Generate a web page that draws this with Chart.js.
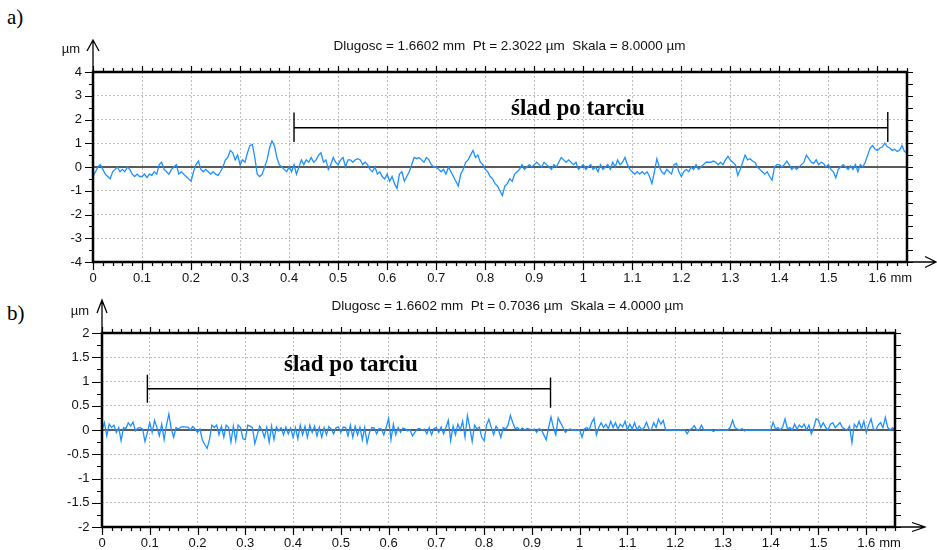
<!DOCTYPE html>
<html>
<head>
<meta charset="utf-8">
<title>Profilogramy</title>
<script src="https://cdn.jsdelivr.net/npm/chart.js@4.4.1/dist/chart.umd.min.js"></script>
<style>
  html, body { margin: 0; padding: 0; background: #fff; }
  #page { position: relative; width: 937px; height: 550px; overflow: hidden; background: #fff; }
  .panel { position: absolute; left: 0; width: 937px; }
  .tag { position: absolute; left: 7px; font: 21px "Liberation Serif", "Times New Roman", serif; color: #000; line-height: 24px; }
</style>
</head>
<body>
<div id="page">
  <div class="tag" style="top:5px">a)</div>
  <div class="tag" style="top:301px">b)</div>
  <div class="panel" style="top:0;height:290px"><canvas id="chartA" width="937" height="290"></canvas></div>
  <div class="panel" style="top:290px;height:260px"><canvas id="chartB" width="937" height="260"></canvas></div>
</div>
<script>
// ---- measured profile data -------------------------------------------------
const LENGTH_MM = 1.6602;        // evaluated length
const SAMPLE_STEP_MM = 0.005;    // spacing of the listed samples

const X_TICKS = [0, 0.1, 0.2, 0.3, 0.4, 0.5, 0.6, 0.7, 0.8, 0.9, 1.0, 1.1, 1.2, 1.3, 1.4, 1.5, 1.6];
const Y_TICKS_A = [-4, -3, -2, -1, 0, 1, 2, 3, 4];
const Y_TICKS_B = [-2, -1.5, -1, -0.5, 0, 0.5, 1, 1.5, 2];

const TITLE_A = 'Dlugosc = 1.6602 mm  Pt = 2.3022 \u00b5m  Skala = 8.0000 \u00b5m';
const TITLE_B = 'Dlugosc = 1.6602 mm  Pt = 0.7036 \u00b5m  Skala = 4.0000 \u00b5m';
const TRACE_LABEL = '\u015blad po tarciu';

// friction trace extent along the profile, mm
const TRACE_A = [0.41, 1.621];
const TRACE_B = [0.095, 0.939];

// profile heights, µm (one row = 0.1 mm)
const PROFILE_A = [
  -0.4,-0.2,0.0,0.1,-0.1,-0.3,-0.4,-0.5,-0.2,-0.1,0.0,-0.2,-0.1,-0.2,0.0,-0.1,-0.3,-0.4,-0.3,-0.4,
  -0.4,-0.3,-0.45,-0.3,-0.35,-0.2,-0.3,0.1,0.2,-0.1,-0.2,-0.3,-0.1,0.0,0.1,-0.3,-0.2,-0.3,-0.4,-0.5,
  -0.6,-0.2,0.1,0.25,-0.1,-0.2,-0.1,-0.2,-0.3,-0.2,-0.3,-0.35,-0.2,0.0,0.3,0.4,0.7,0.6,0.3,0.5,
  0.1,0.3,0.2,0.6,0.9,0.95,0.4,-0.3,-0.4,-0.3,0.0,0.3,0.8,1.1,0.9,0.4,0.1,0.0,-0.1,-0.2,
  0.0,-0.2,0.1,-0.3,0.0,0.3,0.1,0.3,0.2,0.4,0.2,0.3,0.5,0.6,0.2,0.3,-0.1,0.1,0.4,0.2,
  0.1,0.3,0.4,0.0,0.3,0.3,0.2,0.3,0.35,0.3,0.1,0.2,0.1,-0.1,-0.2,0.0,-0.3,-0.2,-0.4,-0.5,
  -0.3,-0.6,-0.4,-0.7,-0.9,-0.3,-0.2,-0.6,-0.4,-0.2,0.1,0.4,0.35,0.4,0.3,0.2,0.4,0.3,0.1,0.0,
  0.0,-0.1,-0.2,-0.1,-0.3,0.0,-0.2,-0.4,-0.6,-0.8,-0.3,-0.1,0.2,0.3,0.5,0.7,0.4,0.5,0.2,0.1,
  -0.1,-0.2,-0.4,-0.5,-0.7,-0.8,-1.0,-1.2,-0.8,-0.7,-0.5,-0.6,-0.3,-0.2,-0.1,0.1,-0.1,0.0,0.1,0.0,
  0.1,0.2,0.1,0.0,0.2,0.1,0.0,-0.1,0.1,0.0,0.2,0.4,0.3,0.2,0.3,0.2,0.1,0.2,-0.1,0.0,
  0.1,-0.1,0.0,0.1,-0.1,0.0,-0.2,0.1,-0.1,0.0,0.1,-0.1,0.2,0.0,0.3,0.1,0.2,0.4,0.1,-0.1,
  -0.2,-0.3,-0.2,-0.3,-0.2,-0.3,-0.2,-0.4,-0.7,-0.2,0.35,0.0,-0.2,-0.3,-0.1,-0.2,-0.3,0.1,0.15,-0.2,
  -0.4,-0.2,-0.1,-0.2,0.0,-0.1,0.1,-0.1,0.0,0.1,0.2,0.2,0.2,0.25,0.2,0.1,0.2,0.1,0.3,0.45,
  0.3,0.2,0.1,-0.35,-0.1,0.2,0.5,0.3,0.35,0.25,0.2,0.0,-0.1,-0.2,-0.3,-0.2,-0.4,-0.55,0.0,0.1,
  0.1,0.0,0.1,0.25,0.1,-0.1,0.0,-0.1,0.0,0.1,0.2,0.5,0.35,0.2,0.15,0.3,0.1,0.2,0.15,0.0,
  0.1,-0.1,-0.2,-0.45,-0.1,0.0,0.1,0.0,-0.1,0.05,-0.1,0.1,-0.2,0.1,0.0,0.2,0.5,0.8,0.9,0.75,
  0.7,0.8,0.85,1.0,0.85,0.8,0.7,0.75,0.65,0.7,0.9,0.65,0.6
];

const PROFILE_B = [
  0.0,0.15,-0.12,0.12,0.05,0.1,-0.05,0.05,-0.22,0.05,0.03,0.15,0.08,0.16,-0.02,0.04,0.05,0.02,-0.24,-0.05,
  0.15,-0.05,0.2,0.05,-0.12,0.12,-0.2,0.1,0.33,0.02,-0.15,0.05,0.02,0.06,0.07,0.06,0.06,0.0,0.07,0.02,
  -0.05,0.02,-0.2,-0.3,-0.38,-0.2,0.1,0.05,0.1,-0.1,0.08,-0.15,0.1,0.05,-0.25,0.08,-0.22,0.1,0.05,-0.18,
  -0.2,0.1,0.08,0.05,-0.28,-0.1,0.08,0.0,-0.15,0.05,-0.25,0.08,-0.2,0.06,-0.02,0.05,-0.1,0.06,-0.08,0.04,
  -0.15,0.05,-0.18,0.1,-0.1,0.08,-0.15,0.1,-0.05,0.08,-0.12,0.06,-0.15,0.05,-0.1,0.07,0.02,-0.08,0.05,0.06,
  -0.05,0.06,0.05,-0.12,0.1,-0.15,0.08,-0.1,0.06,-0.2,0.05,-0.27,-0.05,0.05,0.04,-0.08,0.03,0.02,-0.1,0.05,
  0.24,-0.2,0.12,-0.1,0.05,-0.05,0.04,0.02,-0.02,0.0,-0.12,-0.05,0.02,0.03,0.0,0.02,-0.08,0.05,-0.1,0.03,
  0.05,-0.05,0.06,-0.08,0.05,0.2,-0.22,0.08,-0.1,0.12,0.0,0.18,-0.15,0.3,0.05,-0.24,0.1,0.02,0.06,-0.15,
  -0.22,0.1,0.22,0.05,-0.1,0.08,0.0,-0.15,0.05,0.02,0.1,0.3,0.15,0.03,0.05,0.0,0.04,0.0,0.03,0.02,
  0.0,0.02,-0.05,0.03,0.0,-0.1,-0.2,0.05,0.27,0.05,-0.1,0.25,0.15,0.05,-0.05,0.0,0.02,0.0,0.0,0.0,
  0.0,-0.15,0.02,0.05,0.0,0.15,0.24,-0.1,0.05,0.15,0.05,0.12,0.02,0.18,0.05,0.15,0.02,0.12,0.06,0.18,
  0.0,0.12,0.02,0.15,0.0,0.08,0.0,0.05,0.16,0.02,0.0,0.15,0.05,0.22,0.12,0.2,0.0,0.0,0.0,0.0,
  0.0,0.0,0.0,0.0,0.0,-0.08,0.0,0.03,0.09,0.0,0.0,0.1,0.0,0.0,0.0,0.0,-0.03,0.0,0.0,0.0,
  0.0,0.0,0.0,0.05,0.2,0.05,0.02,0.0,0.03,-0.02,0.0,0.0,0.0,0.0,0.0,0.0,0.0,0.0,0.0,0.0,
  0.0,0.16,0.02,0.05,0.0,0.06,0.23,0.02,0.05,0.0,0.12,0.02,0.1,0.05,0.12,0.0,0.1,-0.08,0.05,0.23,
  0.2,0.05,0.15,0.05,0.0,0.12,0.15,0.05,0.1,0.15,0.05,0.02,0.0,0.08,-0.26,0.12,0.05,0.18,0.02,0.18,
  -0.05,0.1,0.23,0.02,0.0,0.1,0.15,0.05,0.26,0.05,0.0,0.05,0.0
];

// ---- styling ---------------------------------------------------------------
const SANS = '"Liberation Sans", Arial, Helvetica, sans-serif';
const SERIF = '"Liberation Serif", "Times New Roman", serif';
const PROFILE_BLUE = 'rgb(30,144,255)';
const GRID_GREY = '#bdbdbd';
const ZERO_GREY = '#5a5a5a';
const INK = '#111';

const PANELS = {
  chartA: {
    values: PROFILE_A, trace: TRACE_A, title: TITLE_A, yTicks: Y_TICKS_A,
    height: 290, area: { left: 93, right: 907, top: 72, bottom: 262 },
    yMin: -4, yMax: 4, yMinor: 0.5, yMajor: 1,
    leftMajor: 8, leftMinor: 4, labelPad: 3,
    titleX: 509.5, titleY: 49.5, unitX: 71, unitY: 53,
    arrowTop: 40, arrowTip: 936, arrowBack: 11, arrowHalf: 5.5,
    bracket: { level: 1.65, left: [2.3, 1.05], right: [2.32, 1.05], textX: 0.989, textY: 2.18 }
  },
  chartB: {
    values: PROFILE_B, trace: TRACE_B, title: TITLE_B, yTicks: Y_TICKS_B,
    height: 260, area: { left: 102, right: 895, top: 43, bottom: 237 },
    yMin: -2, yMax: 2, yMinor: 0.25, yMajor: 0.5,
    leftMajor: 10, leftMinor: 5, labelPad: 2.5,
    titleX: 507.5, titleY: 19.5, unitX: 80, unitY: 25,
    arrowTop: 10, arrowTip: 925, arrowBack: 13, arrowHalf: 4.5,
    bracket: { level: 0.85, left: [1.14, 0.56], right: [1.08, 0.46], textX: 0.521, textY: 1.22 }
  }
};

function tickText(v) {
  return String(Number(v.toFixed(2)));
}

function isMultiple(v, step) {
  const r = v / step;
  return Math.abs(r - Math.round(r)) < 1e-6;
}

// frame, minor ticks, axis arrows, captions and the trace bracket
const profileFrame = {
  id: 'profileFrame',
  beforeDatasetsDraw(chart) {
    const { ctx, chartArea: a, scales: { y } } = chart;
    const y0 = y.getPixelForValue(0);
    ctx.save();
    ctx.strokeStyle = ZERO_GREY;
    ctx.lineWidth = 2;
    ctx.beginPath();
    ctx.moveTo(a.left, y0);
    ctx.lineTo(a.right, y0);
    ctx.stroke();
    ctx.restore();
  },
  afterDraw(chart) {
    const p = PANELS[chart.canvas.id];
    const { ctx, chartArea: a, scales: { x, y } } = chart;
    ctx.save();
    ctx.strokeStyle = '#000';
    ctx.fillStyle = INK;

    // tick marks
    ctx.lineWidth = 1.2;
    ctx.beginPath();
    const ny = Math.round((p.yMax - p.yMin) / p.yMinor);
    for (let i = 0; i <= ny; i++) {
      const v = p.yMin + i * p.yMinor;
      const py = Math.round(y.getPixelForValue(v)) + 0.5;
      const len = isMultiple(v, p.yMajor) ? p.leftMajor : p.leftMinor;
      ctx.moveTo(a.left - len, py); ctx.lineTo(a.left, py);
      ctx.moveTo(a.right, py); ctx.lineTo(a.right + 6, py);
    }
    const nx = Math.floor(LENGTH_MM / 0.02 + 1e-9);
    for (let i = 0; i <= nx; i++) {
      const v = i * 0.02;
      const px = Math.round(x.getPixelForValue(v)) + 0.5;
      const major = isMultiple(v, 0.1);
      ctx.moveTo(px, a.bottom); ctx.lineTo(px, a.bottom + (major ? 8 : 4));
      ctx.moveTo(px, a.top); ctx.lineTo(px, a.top - (major ? 6 : 4));
    }
    ctx.stroke();

    // axis arrows
    ctx.lineWidth = 1.3;
    ctx.beginPath();
    ctx.moveTo(a.left, a.top); ctx.lineTo(a.left, p.arrowTop);
    ctx.moveTo(a.left - p.arrowHalf - 0.5, p.arrowTop + p.arrowBack);
    ctx.lineTo(a.left, p.arrowTop);
    ctx.lineTo(a.left + p.arrowHalf + 0.5, p.arrowTop + p.arrowBack);
    ctx.moveTo(a.right, a.bottom); ctx.lineTo(p.arrowTip, a.bottom);
    ctx.moveTo(p.arrowTip - p.arrowBack, a.bottom - p.arrowHalf);
    ctx.lineTo(p.arrowTip, a.bottom);
    ctx.lineTo(p.arrowTip - p.arrowBack, a.bottom + p.arrowHalf);
    ctx.stroke();

    // plot frame
    ctx.lineWidth = 2.5;
    ctx.strokeRect(a.left, a.top, a.right - a.left, a.bottom - a.top);

    // captions
    ctx.font = '13.5px ' + SANS;
    ctx.textAlign = 'center';
    ctx.textBaseline = 'alphabetic';
    ctx.fillText(p.title, p.titleX, p.titleY);
    ctx.font = '13px ' + SANS;
    ctx.fillText('\u00b5m', p.unitX, p.unitY);
    const lastTick = X_TICKS[X_TICKS.length - 1];
    const lx = x.getPixelForValue(lastTick);
    ctx.textAlign = 'left';
    ctx.textBaseline = 'top';
    const half = ctx.measureText(tickText(lastTick)).width / 2;
    ctx.fillText('mm', lx + half + 4, a.bottom + 10);

    // friction trace bracket
    const b = p.bracket;
    const x0 = x.getPixelForValue(p.trace[0]);
    const x1 = x.getPixelForValue(p.trace[1]);
    ctx.lineWidth = 1.4;
    ctx.beginPath();
    ctx.moveTo(x0, y.getPixelForValue(b.level)); ctx.lineTo(x1, y.getPixelForValue(b.level));
    ctx.moveTo(x0, y.getPixelForValue(b.left[0])); ctx.lineTo(x0, y.getPixelForValue(b.left[1]));
    ctx.moveTo(x1, y.getPixelForValue(b.right[0])); ctx.lineTo(x1, y.getPixelForValue(b.right[1]));
    ctx.stroke();
    ctx.font = 'bold 23px ' + SERIF;
    ctx.textAlign = 'center';
    ctx.textBaseline = 'alphabetic';
    ctx.fillStyle = '#000';
    ctx.fillText(TRACE_LABEL, x.getPixelForValue(b.textX), y.getPixelForValue(b.textY));
    ctx.restore();
  }
};

function buildChart(id) {
  const p = PANELS[id];
  const points = p.values.map((v, i) => ({ x: i * SAMPLE_STEP_MM, y: v }));
  const tickFont = { family: SANS, size: 13 };
  return new Chart(document.getElementById(id), {
    type: 'line',
    data: {
      datasets: [{
        data: points,
        borderColor: PROFILE_BLUE,
        borderWidth: 1.3,
        pointRadius: 0,
        tension: 0,
        fill: false
      }]
    },
    options: {
      responsive: false,
      animation: false,
      devicePixelRatio: 1,
      layout: { padding: { left: 0, top: p.area.top, right: 937 - p.area.right, bottom: 0 } },
      plugins: { legend: { display: false }, tooltip: { enabled: false }, title: { display: false } },
      scales: {
        x: {
          type: 'linear',
          min: 0,
          max: LENGTH_MM,
          afterBuildTicks: s => { s.ticks = X_TICKS.map(v => ({ value: v })); },
          afterFit: s => { s.height = p.height - p.area.bottom; },
          ticks: { callback: v => tickText(v), font: tickFont, color: INK, padding: 1, maxRotation: 0, autoSkip: false },
          grid: { color: GRID_GREY, lineWidth: 1, drawTicks: true, tickLength: 8, tickColor: 'rgba(0,0,0,0)' },
          border: { display: false, dash: [2, 2] }
        },
        y: {
          type: 'linear',
          min: p.yMin,
          max: p.yMax,
          afterBuildTicks: s => { s.ticks = p.yTicks.map(v => ({ value: v })); },
          afterFit: s => { s.width = p.area.left; },
          ticks: { callback: v => tickText(v), font: tickFont, color: INK, padding: p.labelPad, autoSkip: false },
          grid: { color: GRID_GREY, lineWidth: 1, drawTicks: true, tickLength: p.leftMajor, tickColor: 'rgba(0,0,0,0)' },
          border: { display: false, dash: [2, 2] }
        }
      }
    },
    plugins: [profileFrame]
  });
}

buildChart('chartA');
buildChart('chartB');
</script>
</body>
</html>
